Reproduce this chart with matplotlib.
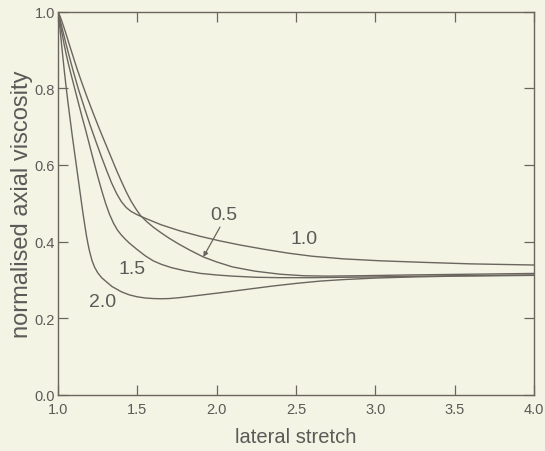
import matplotlib
matplotlib.use("Agg")
import matplotlib.pyplot as plt

# lateral stretch vs normalised axial viscosity, one curve per parameter value
stretch_20 = [1.000, 1.005, 1.010, 1.020, 1.030, 1.040, 1.050, 1.060, 1.070, 1.080,
              1.090, 1.100, 1.110, 1.120, 1.130, 1.140, 1.150, 1.160, 1.170, 1.180,
              1.190, 1.200, 1.215, 1.230, 1.250, 1.275, 1.300, 1.340, 1.400, 1.450,
              1.500, 1.550, 1.600, 1.650, 1.700, 1.770, 1.850, 1.950, 2.050, 2.200,
              2.350, 2.500, 2.650, 2.800, 3.000, 3.250, 3.500, 3.750, 4.000]
visc_20 = [1.000, 0.985, 0.966, 0.925, 0.884, 0.845, 0.808, 0.773, 0.740, 0.708,
           0.676, 0.646, 0.616, 0.586, 0.556, 0.526, 0.496, 0.467, 0.440, 0.414,
           0.392, 0.373, 0.350, 0.334, 0.319, 0.306, 0.297, 0.283, 0.269, 0.261,
           0.256, 0.253, 0.2515, 0.251, 0.2515, 0.254, 0.258, 0.263, 0.268, 0.276,
           0.284, 0.291, 0.297, 0.301, 0.305, 0.308, 0.310, 0.311, 0.312]

stretch_15 = [1.000, 1.005, 1.010, 1.020, 1.030, 1.040, 1.050, 1.065, 1.080, 1.100,
              1.128, 1.150, 1.175, 1.200, 1.225, 1.250, 1.275, 1.300, 1.325, 1.350,
              1.375, 1.400, 1.425, 1.450, 1.500, 1.550, 1.600, 1.650, 1.716, 1.800,
              1.900, 2.000, 2.100, 2.250, 2.400, 2.600, 2.800, 3.000, 3.500, 4.000]
visc_15 = [1.000, 0.990, 0.978, 0.955, 0.933, 0.912, 0.892, 0.865, 0.840, 0.808,
           0.763, 0.728, 0.690, 0.650, 0.610, 0.571, 0.534, 0.500, 0.471, 0.448,
           0.430, 0.417, 0.406, 0.396, 0.379, 0.363, 0.350, 0.341, 0.332, 0.324,
           0.317, 0.313, 0.310, 0.307, 0.306, 0.306, 0.307, 0.308, 0.311, 0.313]

stretch_10 = [1.000, 1.010, 1.020, 1.035, 1.050, 1.070, 1.096, 1.130, 1.170, 1.200,
              1.240, 1.275, 1.310, 1.338, 1.370, 1.400, 1.430, 1.460, 1.500, 1.550,
              1.650, 1.769, 1.895, 2.020, 2.150, 2.300, 2.450, 2.600, 2.800,
              3.030, 3.300, 3.600, 4.000]
visc_10 = [1.000, 0.984, 0.967, 0.942, 0.917, 0.885, 0.845, 0.796, 0.745, 0.707,
           0.660, 0.620, 0.582, 0.553, 0.525, 0.504, 0.489, 0.479, 0.470, 0.461,
           0.444, 0.428, 0.414, 0.402, 0.391, 0.380, 0.370, 0.362, 0.355,
           0.350, 0.346, 0.342, 0.339]

stretch_05 = [1.000, 1.010, 1.020, 1.035, 1.050, 1.070, 1.096, 1.120, 1.150, 1.185,
              1.222, 1.260, 1.300, 1.338, 1.370, 1.400, 1.430, 1.460, 1.490, 1.520,
              1.560, 1.600, 1.650, 1.700, 1.760, 1.830, 1.916, 2.000, 2.100, 2.241,
              2.400, 2.550, 2.700, 2.900, 3.200, 3.600, 4.000]
visc_05 = [1.000, 0.991, 0.980, 0.962, 0.943, 0.916, 0.882, 0.851, 0.815, 0.775,
           0.735, 0.695, 0.655, 0.617, 0.585, 0.557, 0.530, 0.506, 0.486, 0.468,
           0.452, 0.438, 0.423, 0.409, 0.394, 0.378, 0.360, 0.347, 0.334, 0.323,
           0.315, 0.311, 0.310, 0.311, 0.313, 0.315, 0.317]

curve_labels = ["2.0", "1.5", "1.0", "0.5"]
label_x = [1.280, 1.464, 2.550, 2.044]
label_y = [0.243, 0.329, 0.409, 0.471]

x_ticks = [1.0, 1.5, 2.0, 2.5, 3.0, 3.5, 4.0]
y_ticks = [0.0, 0.2, 0.4, 0.6, 0.8, 1.0]

bg = "#f3f4e4"
ink = "#6a655f"
text_col = "#5c5a58"

plt.rcParams["font.family"] = ["Liberation Sans", "DejaVu Sans"]

fig = plt.figure(figsize=(5.45, 4.52), dpi=100, facecolor=bg)
ax = fig.add_axes([0.1064, 0.124, 0.8734, 0.848], facecolor=bg)

for xs, ys in [(stretch_20, visc_20), (stretch_15, visc_15),
               (stretch_10, visc_10), (stretch_05, visc_05)]:
    ax.plot(xs, ys, color=ink, lw=1.0, solid_joinstyle="round")

for lab, lx, ly in zip(curve_labels, label_x, label_y):
    ax.text(lx, ly, lab, ha="center", va="center", fontsize=14, color=text_col)

# small arrow tying the 0.5 label to its curve
ax.annotate("", xy=(1.916, 0.360), xytext=(2.021, 0.438),
            arrowprops=dict(arrowstyle="-|>", color=ink, lw=0.9,
                            mutation_scale=7, shrinkA=0, shrinkB=0))

ax.set_xlim(1.0, 4.0)
ax.set_ylim(0.0, 1.0)
ax.set_xticks(x_ticks)
ax.set_yticks(y_ticks)
ax.set_xticklabels([f"{v:.1f}" for v in x_ticks])
ax.set_yticklabels([f"{v:.1f}" for v in y_ticks])
ax.tick_params(direction="in", length=7, width=0.9, color=ink, labelcolor=text_col,
               labelsize=10.5, top=True, right=True)
ax.tick_params(axis="x", pad=5)
ax.tick_params(axis="y", pad=2)
for sp in ax.spines.values():
    sp.set_color(ink)
    sp.set_linewidth(1.0)

ax.set_xlabel("lateral stretch", fontsize=14.5, color=text_col, labelpad=8)
ax.set_ylabel("normalised axial viscosity", fontsize=17, color=text_col, labelpad=1)

fig.savefig("out.png", dpi=100, facecolor=bg)
